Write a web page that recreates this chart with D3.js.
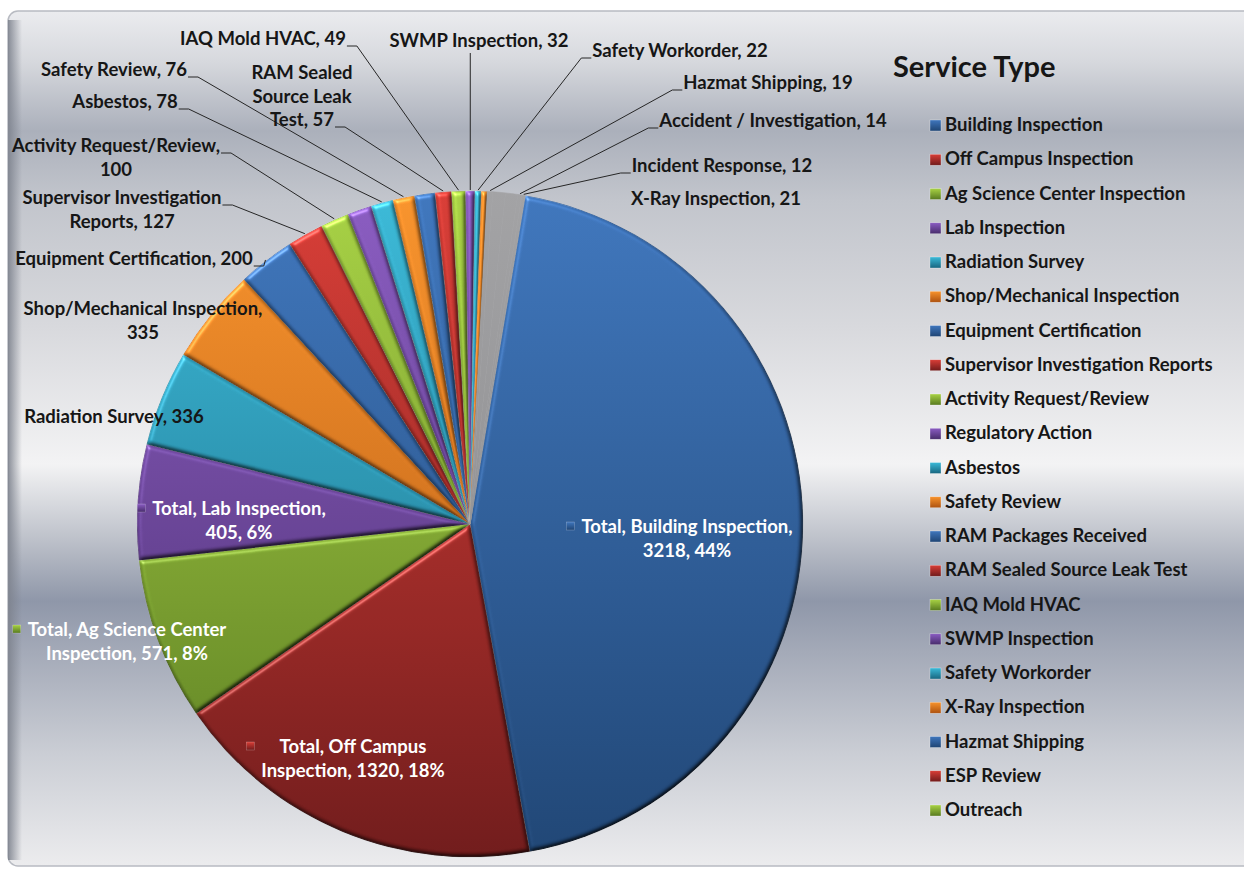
<!DOCTYPE html>
<html>
<head>
<meta charset="utf-8">
<script src="https://cdn.jsdelivr.net/npm/d3@7"></script>
<style>
  html, body { margin: 0; padding: 0; background: #ffffff; }
  svg { display: block; }
  text { font-family: Lato, "Open Sans", sans-serif; font-weight: 700; }
</style>
</head>
<body>
<svg id="chart" width="1244" height="871"></svg>
<script>
// ---------------- DATA ----------------
const categories = [
  "Building Inspection", "Off Campus Inspection", "Ag Science Center Inspection",
  "Lab Inspection", "Radiation Survey", "Shop/Mechanical Inspection",
  "Equipment Certification", "Supervisor Investigation Reports", "Activity Request/Review",
  "Regulatory Action", "Asbestos", "Safety Review", "RAM Packages Received",
  "RAM Sealed Source Leak Test", "IAQ Mold HVAC", "SWMP Inspection", "Safety Workorder",
  "X-Ray Inspection", "Hazmat Shipping", "ESP Review", "Outreach",
  "Accident / Investigation", "Incident Response"
];
const values = [
  3218, 1320, 571,
  405, 336, 335,
  200, 127, 100,
  85, 78, 76, 72,
  57, 49, 32, 22,
  21, 19, 44, 43,
  14, 12
];
const seriesName = "Total";
const legendTitle = "Service Type";
const legendCount = 21;          // entries visible in the legend

// ---------------- STYLE / LAYOUT ----------------
const W = 1244, H = 871;
const cx = 470, cy = 524, R = 333;
const startDeg = 9.55;
const paletteNames = ["blue", "red", "green", "purple", "teal", "orange"];
const shades = {
  blue:   ["#3f76bd", "#1f4574"],
  red:    ["#d93d36", "#701b1b"],
  green:  ["#a8d244", "#587a20"],
  purple: ["#8a5cc2", "#472c6b"],
  teal:   ["#3bbad8", "#186680"],
  orange: ["#f8932c", "#ad5210"],
  gray:   ["#a3a3a5", "#858588"]
};
const grayFrom = 18; // slices from this index on render grey in the pie

// label layout (text centre x, first baseline y, words per line, leader style)
const labelLayout = {
  "Building Inspection":          {x: 687, y: 533, lines: [3], inside: true},
  "Off Campus Inspection":        {x: 353, y: 753, lines: [3], inside: true},
  "Ag Science Center Inspection": {x: 127, y: 636, lines: [4], inside: true},
  "Lab Inspection":               {x: 239, y: 515, lines: [3], inside: true},
  "Radiation Survey":             {x: 114, y: 423},
  "Shop/Mechanical Inspection":   {x: 143, y: 315, lines: [2]},
  "Equipment Certification":      {x: 134, y: 265, lead: {line: 0, side: "right"}},
  "Supervisor Investigation Reports": {x: 122, y: 204, lines: [2], lead: {line: 0, side: "right"}},
  "Activity Request/Review":      {x: 116, y: 152, lines: [2], lead: {line: 0, side: "right"}},
  "Asbestos":                     {x: 125, y: 108, lead: {line: 0, side: "right"}},
  "Safety Review":                {x: 114, y: 76,  lead: {line: 0, side: "right"}},
  "RAM Sealed Source Leak Test":  {x: 302, y: 79, lines: [2, 4], lead: {line: 2, side: "right"}},
  "IAQ Mold HVAC":                {x: 263, y: 45,  lead: {line: 0, side: "right"}},
  "SWMP Inspection":              {x: 479, y: 47,  lead: {line: 0, side: "below"}},
  "Safety Workorder":             {x: 680, y: 57,  lead: {line: 0, side: "left"}},
  "Hazmat Shipping":              {x: 768, y: 89,  lead: {line: 0, side: "left"}},
  "Accident / Investigation":     {x: 773, y: 127, lead: {line: 0, side: "left"}},
  "Incident Response":            {x: 722, y: 172, lead: {line: 0, side: "left"}},
  "X-Ray Inspection":             {x: 716, y: 205}
};
const lineH = 23.5;
const fontSize = 18.5;

// ---------------- SVG ----------------
const svg = d3.select("#chart");
const defs = svg.append("defs");

// background gradient
const bg = defs.append("linearGradient").attr("id", "bg")
  .attr("x1", 0).attr("y1", 0).attr("x2", 0).attr("y2", 1);
[[0, "#ebecef"], [0.06, "#d6d8dd"], [0.14, "#abb0bb"], [0.22, "#c2c5cc"],
 [0.37, "#d8d9dd"], [0.53, "#f3f3f4"], [0.62, "#bcc0c9"], [0.69, "#8f97a9"],
 [0.75, "#a4aab8"], [0.87, "#cbced5"], [1, "#ececee"]]
  .forEach(([o, c]) => bg.append("stop").attr("offset", o).attr("stop-color", c));

const edge = defs.append("linearGradient").attr("id", "edge")
  .attr("x1", 0).attr("y1", 0).attr("x2", 1).attr("y2", 0);
edge.append("stop").attr("offset", 0).attr("stop-color", "#7d828d").attr("stop-opacity", 0.9);
edge.append("stop").attr("offset", 1).attr("stop-color", "#7d828d").attr("stop-opacity", 0);

// slice gradients (pie group is translated to the centre, so -R..R)
Object.entries(shades).forEach(([name, [lo, hi]]) => {
  const g = defs.append("linearGradient").attr("id", "pie-" + name)
    .attr("gradientUnits", "userSpaceOnUse")
    .attr("x1", 0).attr("y1", -R).attr("x2", 0).attr("y2", R);
  g.append("stop").attr("offset", 0).attr("stop-color", lo);
  g.append("stop").attr("offset", 1).attr("stop-color", hi);
  const k = defs.append("linearGradient").attr("id", "key-" + name)
    .attr("x1", 0).attr("y1", 0).attr("x2", 0).attr("y2", 1);
  k.append("stop").attr("offset", 0).attr("stop-color", lo);
  k.append("stop").attr("offset", 1).attr("stop-color", hi);
});

// bevel filter (sRGB so the lighting does not wash colours out)
const f = defs.append("filter").attr("id", "bevel")
  .attr("color-interpolation-filters", "sRGB")
  .attr("x", "-5%").attr("y", "-5%").attr("width", "110%").attr("height", "110%");
f.append("feGaussianBlur").attr("in", "SourceAlpha").attr("stdDeviation", 2.2).attr("result", "blur");
const diff = f.append("feDiffuseLighting").attr("in", "blur").attr("surfaceScale", 3)
  .attr("diffuseConstant", 1).attr("lighting-color", "#ffffff").attr("result", "diff");
diff.append("feDistantLight").attr("azimuth", 235).attr("elevation", 60);
f.append("feComposite").attr("in", "SourceGraphic").attr("in2", "diff")
  .attr("operator", "arithmetic").attr("k1", 1.15).attr("k2", 0).attr("k3", 0).attr("k4", 0)
  .attr("result", "shaded");
const spec = f.append("feSpecularLighting").attr("in", "blur").attr("surfaceScale", 3)
  .attr("specularConstant", 0.6).attr("specularExponent", 28)
  .attr("lighting-color", "#ffffff").attr("result", "spec");
spec.append("feDistantLight").attr("azimuth", 235).attr("elevation", 35);
f.append("feComposite").attr("in", "spec").attr("in2", "SourceAlpha")
  .attr("operator", "in").attr("result", "specIn");
f.append("feComposite").attr("in", "shaded").attr("in2", "specIn")
  .attr("operator", "arithmetic").attr("k1", 0).attr("k2", 1).attr("k3", 0.45).attr("k4", 0);

// chart area
svg.append("rect").attr("x", 8).attr("y", 11).attr("width", 1250).attr("height", 855)
  .attr("rx", 10).attr("fill", "url(#bg)").attr("stroke", "#b8bbc2").attr("stroke-width", 1.5);
svg.append("rect").attr("x", 8).attr("y", 20).attr("width", 14).attr("height", 840)
  .attr("fill", "url(#edge)");

const colorName = i => paletteNames[i % paletteNames.length];
const isGray = i => i >= grayFrom;
const sliceName = i => isGray(i) ? "gray" : colorName(i);

// pie
const data = categories.map((c, i) => ({name: c, value: values[i], i}));
const total = d3.sum(values);
const pie = d3.pie().value(d => d.value).sort(null)
  .startAngle(startDeg * Math.PI / 180)
  .endAngle(startDeg * Math.PI / 180 + 2 * Math.PI);
const arcs = pie(data);
const arc = d3.arc().innerRadius(0).outerRadius(R);
const edgeArc = d3.arc().innerRadius(R + 1).outerRadius(R + 1);

const gPie = svg.append("g").attr("transform", `translate(${cx},${cy})`);
gPie.selectAll("path.slice").data(arcs).join("path")
  .attr("class", "slice")
  .attr("d", arc)
  .attr("fill", d => `url(#pie-${sliceName(d.data.i)})`)
  .attr("stroke", d => isGray(d.data.i) ? `url(#pie-gray)` : "rgba(255,255,255,0.2)")
  .attr("stroke-width", d => isGray(d.data.i) ? 0.6 : 1)
  .attr("filter", d => isGray(d.data.i) ? null : "url(#bevel)");

// labels
const gLab = svg.append("g");
function splitLines(text, breaks) {
  const words = text.split(" ");
  if (!breaks) return [text];
  const out = []; let prev = 0;
  breaks.forEach(b => { out.push(words.slice(prev, b).join(" ")); prev = b; });
  out.push(words.slice(prev).join(" "));
  return out;
}
arcs.forEach(a => {
  const L = labelLayout[a.data.name];
  if (!L) return;
  const pct = Math.round(a.data.value / total * 100);
  const txt = L.inside
    ? `${seriesName}, ${a.data.name}, ${a.data.value}, ${pct}%`
    : `${a.data.name}, ${a.data.value}`;
  const lines = splitLines(txt, L.lines);
  const t = gLab.append("text")
    .attr("text-anchor", "middle")
    .attr("font-size", fontSize)
    .attr("fill", L.inside ? "#ffffff" : "#161616");
  const tspans = lines.map((s, k) => t.append("tspan")
    .attr("x", L.x).attr("y", L.y + k * lineH).text(s));
  if (L.inside) {
    const wMax = d3.max(tspans, s => s.node().getComputedTextLength());
    gLab.append("rect")
      .attr("x", L.x - wMax / 2 - 15).attr("y", L.y - 11)
      .attr("width", 8).attr("height", 8)
      .attr("fill", `url(#key-${colorName(a.data.i)})`)
      .attr("stroke", "rgba(255,255,255,0.4)").attr("stroke-width", 0.5);
  }
  if (L.lead) {
    const [ex, ey] = edgeArc.centroid(a);
    const end = [cx + ex, cy + ey];
    const ln = tspans[L.lead.line];
    const w = ln.node().getComputedTextLength();
    const by = L.y + L.lead.line * lineH + 1;
    let pts;
    if (L.lead.side === "right") {
      const x0 = L.x + w / 2 + 1;
      pts = [[x0, by], [x0 + 10, by], end];
    } else if (L.lead.side === "left") {
      const x0 = L.x - w / 2 - 1;
      pts = [[x0, by], [x0 - 10, by], end];
    } else {
      pts = [[end[0], L.y + 6], end];
    }
    gLab.append("path")
      .attr("d", d3.line()(pts))
      .attr("fill", "none").attr("stroke", "#262626").attr("stroke-width", 1);
  }
});

// legend
svg.append("text").attr("x", 893).attr("y", 77)
  .attr("font-size", 29).attr("fill", "#161616").text(legendTitle);
const yLeg = d3.scaleLinear().domain([0, legendCount - 1]).range([131, 816]);
const gLeg = svg.append("g");
categories.slice(0, legendCount).forEach((c, i) => {
  gLeg.append("rect").attr("x", 930).attr("y", yLeg(i) - 11)
    .attr("width", 11).attr("height", 11)
    .attr("fill", `url(#key-${colorName(i)})`)
    .attr("stroke", "rgba(255,255,255,0.5)").attr("stroke-width", 0.6);
  gLeg.append("text").attr("x", 945).attr("y", yLeg(i))
    .attr("font-size", fontSize).attr("fill", "#161616").text(c);
});
</script>
</body>
</html>
